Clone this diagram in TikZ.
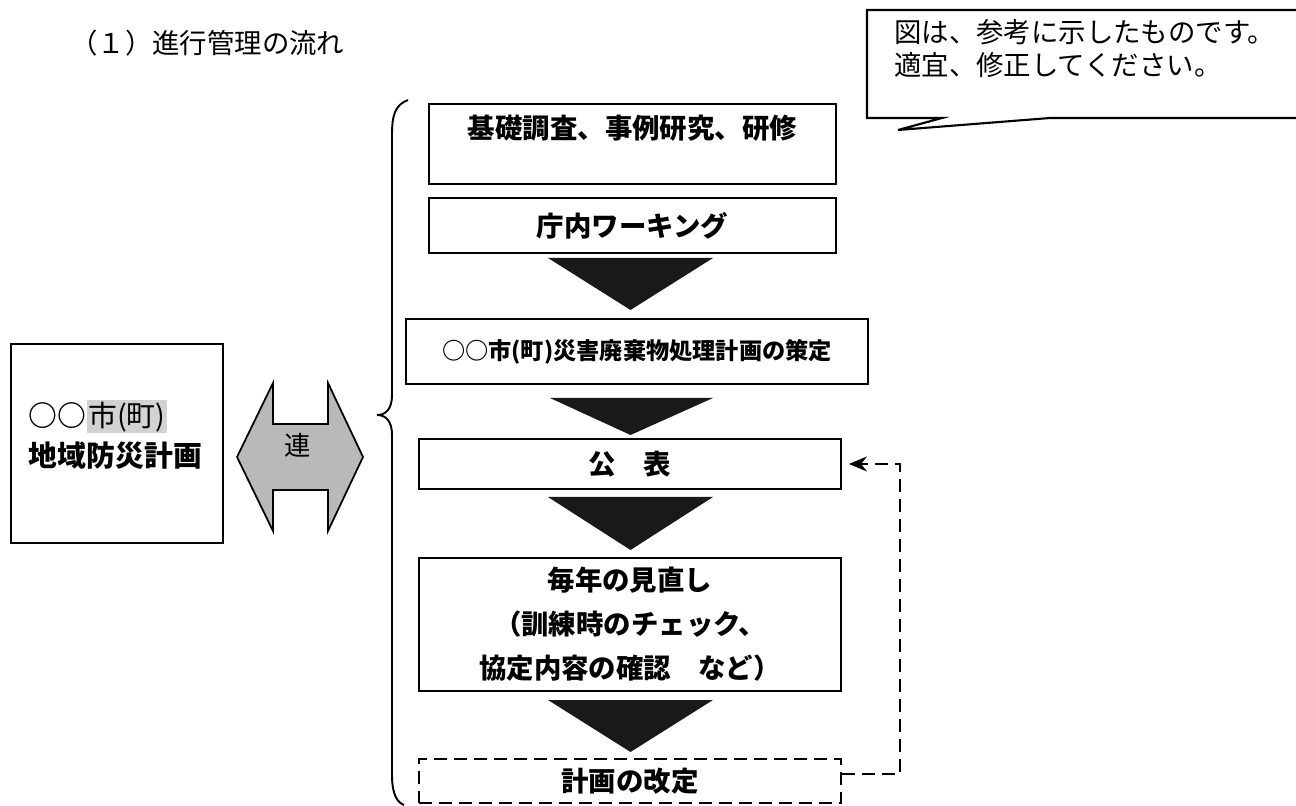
\documentclass[tikz,border=0pt]{standalone}
\usepackage{fontspec}
\usepackage{tikz}
\usetikzlibrary{arrows.meta}
\newfontfamily\gothic{Noto Sans CJK JP}
\newfontfamily\mincho{Noto Sans CJK JP}

\begin{document}
\begin{tikzpicture}[
		flowbox/.style={draw, line width=1.1pt, anchor=north west, inner sep=0pt, align=center,
			font=\gothic\bfseries\fontsize{15.6}{25}\selectfont},
		flowtri/.style={fill=black!90},
		loopline/.style={draw, dashed, dash pattern=on 0.26cm off 0.14cm, line width=1.1pt}]
			\useasboundingbox (0, 0) rectangle (25.92, 16.1);
			\clip (0, 0) rectangle (25.92, 16.1);
			% title and note
			\node [anchor=west, font=\gothic\fontsize{15.6}{19}\selectfont] (title) at (1.28, 15.24) {（１）進行管理の流れ};
			\draw [fill=white, line width=1.2pt] (26.3, 15.9) -- (17.34, 15.9) -- (17.34, 13.74) -- (18.84, 13.74) -- (17.96, 13.5) -- (21.0, 13.74) -- (26.3, 13.74);
			\node [anchor=west, align=left, font=\mincho\fontsize{15.6}{18.7}\selectfont] (note) at (17.76, 15.12) {図は、参考に示したものです。\\適宜、修正してください。};
			% left plan box and link arrow
			\node [draw, line width=1.1pt, anchor=north west, minimum width=4.24cm, minimum height=3.98cm, text width=3.52cm, inner xsep=0.36cm, align=left,
				text depth=1.22cm, font=\gothic\bfseries\fontsize{16.4}{23.3}\selectfont] (plan) at (0.2, 9.24)
				{○○{\setlength{\fboxsep}{1pt}\colorbox{gray!35}{\mincho\mdseries 市(町)}}\\地域防災計画};
			\draw [fill=gray!55, line width=1pt] (4.74, 6.96) -- (5.46, 8.44) -- (5.46, 7.62) -- (6.56, 7.62) -- (6.56, 8.44) -- (7.26, 6.96)
				-- (6.56, 5.48) -- (6.56, 6.3) -- (5.46, 6.3) -- (5.46, 5.48) -- cycle;
			\node [font=\mincho\fontsize{15}{17}\selectfont] (link) at (5.96, 7.2) {連};
			\draw [line width=1.1pt] (8.16, 14.1) .. controls (7.9, 14.0) and (7.84, 13.8) .. (7.84, 13.4) -- (7.84, 8.2)
				.. controls (7.84, 7.9) and (7.7, 7.8) .. (7.54, 7.8) .. controls (7.7, 7.8) and (7.84, 7.7) .. (7.84, 7.4)
				-- (7.84, 0.6) .. controls (7.84, 0.2) and (7.95, 0.05) .. (8.08, 0);
			% flow
			\node [flowbox, minimum width=8.14cm, minimum height=1.6cm, text height=0.45cm, text depth=0.65cm] (box1) at (8.56, 14.04) {基礎調査、事例研究、研修};
			\node [flowbox, minimum width=8.14cm, minimum height=1.1cm] (box2) at (8.56, 12.16) {庁内ワーキング};
			\node [flowbox, minimum width=9.24cm, minimum height=1.3cm, font=\gothic\bfseries\fontsize{13.2}{16}\selectfont] (box3) at (8.1, 9.74) {○○市(町)災害廃棄物処理計画の策定};
			\node [flowbox, minimum width=8.44cm, minimum height=1.0cm] (box4) at (8.36, 7.34) {公　表};
			\node [flowbox, minimum width=8.44cm, minimum height=2.66cm] (box5) at (8.36, 4.96) {毎年の見直し\\（訓練時のチェック、\\協定内容の確認　など）};
			\node [flowbox, loopline, minimum width=8.44cm, minimum height=0.88cm] (box6) at (8.36, 0.94) {計画の改定};
			\fill [flowtri] (10.96, 10.94) -- (14.26, 10.94) -- (12.61, 9.9) -- cycle;
			\fill [flowtri] (11.0, 8.14) -- (14.26, 8.14) -- (12.61, 7.4) -- cycle;
			\fill [flowtri] (10.96, 6.16) -- (14.26, 6.16) -- (12.61, 5.1) -- cycle;
			\fill [flowtri] (10.96, 2.1) -- (14.26, 2.1) -- (12.61, 1.06) -- cycle;
			\draw [loopline, -{Stealth[length=0.36cm, width=0.3cm]}, shorten >=0.14cm] ([yshift=0.14cm]box6.east) -- ++(1.16, 0) |- (box4.east);
		\end{tikzpicture}
\end{document}
